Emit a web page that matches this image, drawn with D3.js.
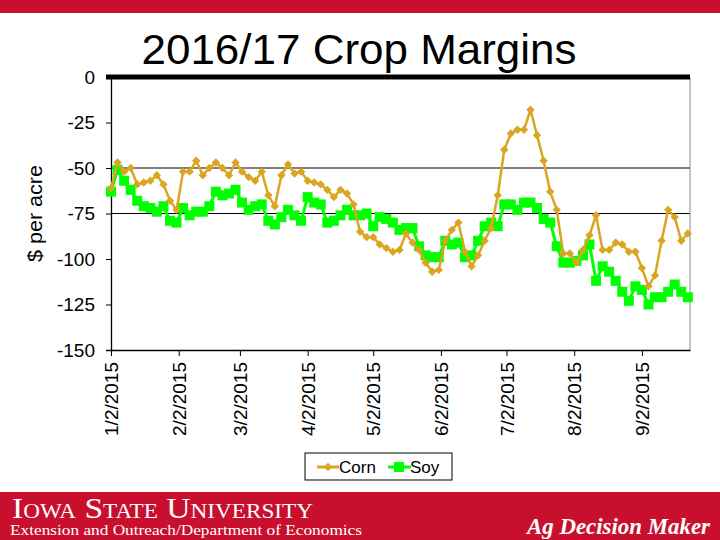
<!DOCTYPE html>
<html><head><meta charset="utf-8">
<script src="https://cdn.jsdelivr.net/npm/d3@7"></script>
<style>body{margin:0;background:#fff}svg{display:block}</style>
</head><body>
<svg id="c" width="720" height="540"></svg>
<script>
const title = "2016/17 Crop Margins";
const yLabel = "$ per acre";
const seriesNames = ["Corn", "Soy"];
const dates = [
"2015-01-02","2015-01-05","2015-01-08","2015-01-11","2015-01-14","2015-01-17","2015-01-20","2015-01-23","2015-01-26","2015-01-29",
"2015-02-01","2015-02-04","2015-02-07","2015-02-10","2015-02-13","2015-02-16","2015-02-19","2015-02-22","2015-02-25","2015-02-28",
"2015-03-03","2015-03-06","2015-03-09","2015-03-12","2015-03-15","2015-03-18","2015-03-21","2015-03-24","2015-03-27","2015-03-30",
"2015-04-02","2015-04-05","2015-04-08","2015-04-11","2015-04-14","2015-04-17","2015-04-20","2015-04-23","2015-04-26","2015-04-29",
"2015-05-02","2015-05-05","2015-05-08","2015-05-11","2015-05-14","2015-05-17","2015-05-20","2015-05-23","2015-05-26","2015-05-29",
"2015-06-01","2015-06-04","2015-06-07","2015-06-10","2015-06-13","2015-06-16","2015-06-19","2015-06-22","2015-06-25","2015-06-28",
"2015-07-01","2015-07-04","2015-07-07","2015-07-10","2015-07-13","2015-07-16","2015-07-19","2015-07-22","2015-07-25","2015-07-28","2015-07-31",
"2015-08-03","2015-08-06","2015-08-09","2015-08-12","2015-08-15","2015-08-18","2015-08-21","2015-08-24","2015-08-27","2015-08-30",
"2015-09-02","2015-09-05","2015-09-08","2015-09-11","2015-09-14","2015-09-17","2015-09-20","2015-09-23"];
const corn = [
-61,-47,-52,-50,-59,-58,-57,-54,-59,-68,
-73,-52,-52,-46,-54,-50,-47,-50,-54,-47,
-52,-55,-57,-52,-65,-71,-54,-48,-53,-52,
-57,-58,-59,-62,-66,-62,-64,-70,-85,-88,
-88,-92,-94,-96,-95,-86,-91,-95,-102,-107,
-106,-90,-84,-80,-96,-104,-98,-90,-83,-65,
-40,-31,-29,-29,-18,-32,-46,-63,-73,-97,-97,
-102,-95,-87,-76,-95,-95,-91,-92,-96,-96,
-105,-115,-109,-90,-73,-77,-90,-86];
const soy = [
-63,-51,-57,-62,-68,-71,-72,-74,-71,-79,
-80,-72,-76,-74,-74,-71,-63,-65,-64,-62,
-69,-73,-71,-70,-79,-81,-77,-73,-76,-79,
-66,-69,-70,-80,-79,-76,-73,-76,-76,-75,
-82,-77,-78,-80,-84,-83,-83,-93,-98,-99,
-99,-90,-92,-91,-99,-98,-90,-82,-80,-82,
-70,-70,-73,-69,-69,-72,-78,-80,-93,-102,-102,
-101,-98,-92,-112,-104,-107,-112,-118,-123,-115,
-117,-125,-121,-121,-118,-114,-118,-121];
const xTickLabels = ["1/2/2015","2/2/2015","3/2/2015","4/2/2015","5/2/2015","6/2/2015","7/2/2015","8/2/2015","9/2/2015"];
const yTicks = [0,-25,-50,-75,-100,-125,-150];
const gridValues = [-50,-75];
const xDomain = ["2015-01-02","2015-09-24"];

const colors = {corn:"#DAA520", soy:"#00FF00", red:"#C8102E"};
const parse = d3.timeParse("%Y-%m-%d");
const parseTick = d3.timeParse("%m/%d/%Y");
const svg = d3.select("#c");
const L = 111, R = 690, T = 77, B = 350;
const FONT = "Liberation Sans, Arial, sans-serif";

// header / footer bands
svg.append("rect").attr("x",0).attr("y",0).attr("width",720).attr("height",13).attr("fill",colors.red);
svg.append("rect").attr("x",0).attr("y",492).attr("width",720).attr("height",48).attr("fill",colors.red);

const x = d3.scaleTime().domain(xDomain.map(parse)).range([L,R]);
const y = d3.scaleLinear().domain([-150,0]).range([B,T]);

// title
svg.append("text").attr("x",359).attr("y",64).attr("text-anchor","middle")
  .attr("font-family",FONT).attr("font-size",43).attr("textLength",435).attr("lengthAdjust","spacingAndGlyphs").text(title);

// grid lines
svg.append("g").selectAll("line").data(gridValues).join("line")
  .attr("x1",L).attr("x2",R).attr("y1",d=>y(d)).attr("y2",d=>y(d))
  .attr("stroke","#000").attr("stroke-width",1.2);
// right border
svg.append("line").attr("x1",R).attr("x2",R).attr("y1",T).attr("y2",B).attr("stroke","#888").attr("stroke-width",1);

// y axis
const ya = svg.append("g").attr("transform",`translate(${L},0)`)
  .call(d3.axisLeft(y).tickValues(yTicks).tickFormat(d=>String(d)).tickSize(5).tickPadding(11));
ya.select(".domain").attr("stroke","#000").attr("stroke-width",1.3);
ya.selectAll(".tick line").attr("stroke","#000");
ya.selectAll("text").attr("font-family",FONT).attr("font-size",19).attr("fill","#000");

// x axis
const xa = svg.append("g").attr("transform",`translate(0,${B})`)
  .call(d3.axisBottom(x).tickValues(xTickLabels.map(parseTick)).tickFormat(d3.timeFormat("%-m/%-d/%Y")).tickSize(6).tickSizeOuter(0));
xa.select(".domain").attr("stroke","#000").attr("stroke-width",1.3);
xa.selectAll(".tick line").attr("stroke","#000");
xa.selectAll("text").attr("font-family",FONT).attr("font-size",19).attr("fill","#000")
  .attr("transform","rotate(-90)").attr("text-anchor","end").attr("x",-12).attr("y",0).attr("dy","0.35em");

// thick zero line
svg.append("line").attr("x1",L-5).attr("x2",R).attr("y1",y(0)).attr("y2",y(0)).attr("stroke","#000").attr("stroke-width",5);

// y label
svg.append("text").attr("transform",`translate(42,${(T+B)/2}) rotate(-90)`).attr("text-anchor","middle")
  .attr("font-family",FONT).attr("font-size",20).attr("textLength",97).attr("lengthAdjust","spacingAndGlyphs").text(yLabel);

const dd = dates.map(parse);
const line = d3.line().x((d,i)=>x(dd[i])).y(d=>y(d));

// soy
const gs = svg.append("g");
gs.append("path").datum(soy).attr("d",line).attr("fill","none").attr("stroke",colors.soy).attr("stroke-width",3);
gs.selectAll("rect").data(soy).join("rect")
  .attr("x",(d,i)=>x(dd[i])-5).attr("y",d=>y(d)-5).attr("width",10).attr("height",10).attr("fill",colors.soy);

// corn
const gc = svg.append("g");
gc.append("path").datum(corn).attr("d",line).attr("fill","none").attr("stroke",colors.corn).attr("stroke-width",2.5);
const diamond = d3.symbol().type(d3.symbolDiamond2).size(45);
gc.selectAll("path.m").data(corn).join("path").attr("class","m")
  .attr("d",diamond).attr("transform",(d,i)=>`translate(${x(dd[i])},${y(d)})`).attr("fill",colors.corn);

// legend
const lg = svg.append("g");
lg.append("rect").attr("x",305).attr("y",453).attr("width",147).attr("height",27).attr("fill","#fff").attr("stroke","#000").attr("stroke-width",1);
lg.append("line").attr("x1",317).attr("x2",339).attr("y1",467).attr("y2",467).attr("stroke",colors.corn).attr("stroke-width",3);
lg.append("path").attr("d",diamond).attr("transform","translate(328,467)").attr("fill",colors.corn);
lg.append("text").attr("x",339).attr("y",473).attr("font-family",FONT).attr("font-size",17).text(seriesNames[0]);
lg.append("line").attr("x1",388).attr("x2",411).attr("y1",467).attr("y2",467).attr("stroke",colors.soy).attr("stroke-width",3);
lg.append("rect").attr("x",394).attr("y",462).attr("width",10).attr("height",10).attr("fill",colors.soy);
lg.append("text").attr("x",410).attr("y",473).attr("font-family",FONT).attr("font-size",17).text(seriesNames[1]);

// footer text
svg.append("text").attr("x",12).attr("y",518).attr("fill","#fff").attr("font-family","Liberation Serif, Times New Roman, serif")
  .attr("font-size",29).style("font-variant","small-caps").attr("textLength",301).attr("lengthAdjust","spacingAndGlyphs").text("Iowa State University");
svg.append("text").attr("x",10).attr("y",535).attr("fill","#fff").attr("font-family","Liberation Serif, Times New Roman, serif")
  .attr("font-size",14).attr("textLength",352).attr("lengthAdjust","spacingAndGlyphs").text("Extension and Outreach/Department of Economics");
svg.append("text").attr("x",527).attr("y",534).attr("fill","#fff").attr("font-family","Liberation Serif, Times New Roman, serif")
  .attr("font-size",24).attr("font-style","italic").attr("font-weight","bold").attr("textLength",183).attr("lengthAdjust","spacingAndGlyphs").text("Ag Decision Maker");
</script>
</body></html>
